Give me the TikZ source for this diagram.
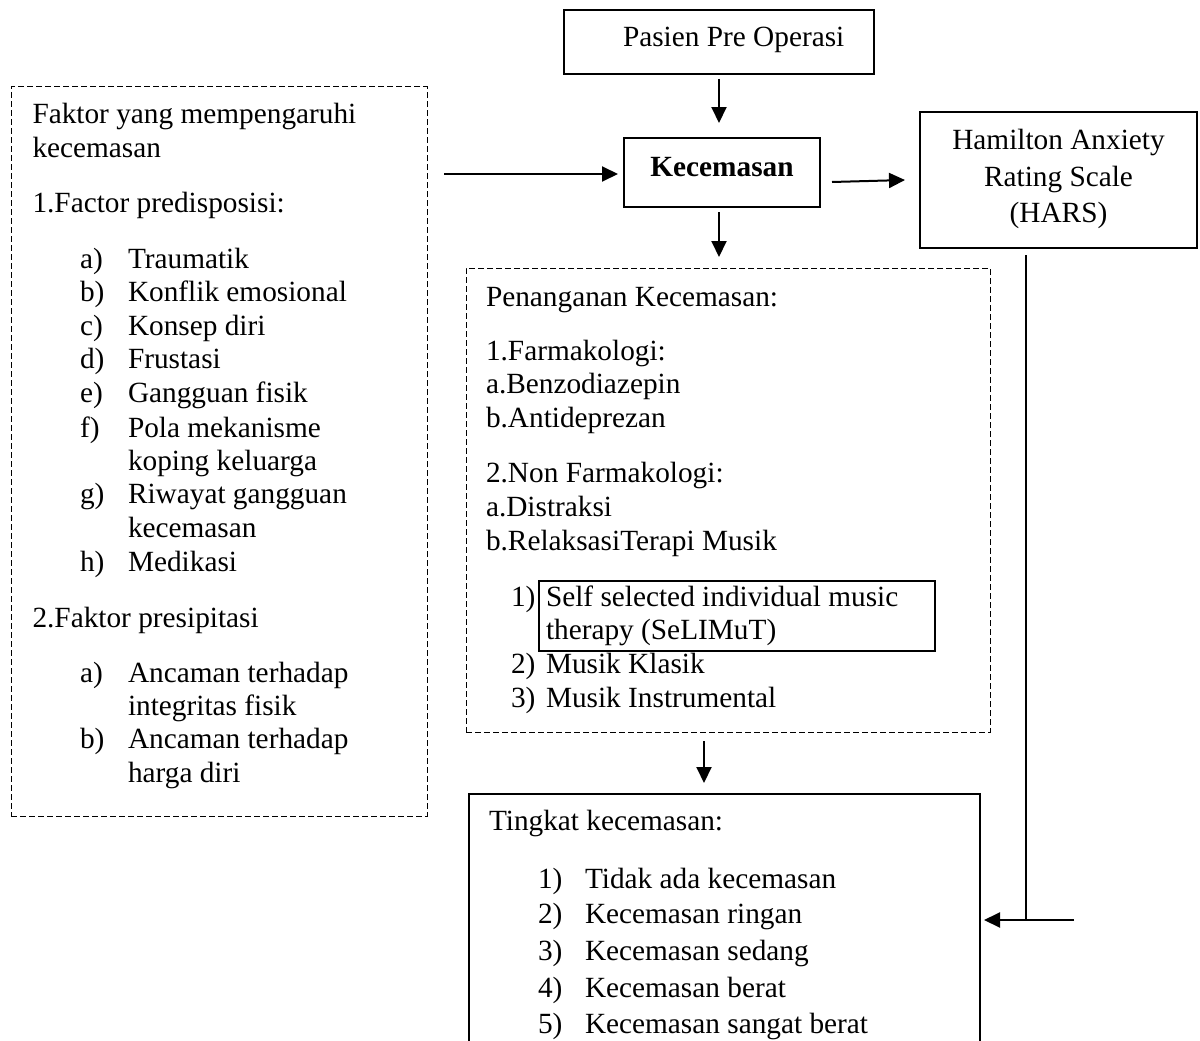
\documentclass[tikz,border=0pt]{standalone}
\usepackage{fontspec}
\setmainfont{Liberation Serif}
\usetikzlibrary{arrows.meta,calc}
\begin{document}
\begin{tikzpicture}[x=1pt,y=-1pt,
  every node/.style={inner sep=0pt, outer sep=0pt},
  txt/.style={anchor=base west, font=\fontsize{29.3}{33}\selectfont},
  ctxt/.style={anchor=base, font=\fontsize{29.3}{33}\selectfont},
  boxsolid/.style={draw=black, line width=1.3pt},
  boxdash/.style={draw=black, line width=1pt, dash pattern=on 6pt off 3pt},
  arr/.style={line width=2pt, -{Triangle[length=16pt,width=15pt]}},
  thinline/.style={line width=1.3pt}]
\useasboundingbox (0,0) rectangle (1200,1041);
\fill[white] (0,0) rectangle (1200,1041);

% ---------- boxes ----------
\node[boxsolid, minimum width=310pt, minimum height=64pt] (pasien) at (719,42) {};
\node[boxsolid, minimum width=196pt, minimum height=69pt] (kecem) at (722,172.5) {};
\node[boxsolid, minimum width=277pt, minimum height=136pt] (hars) at (1058.5,180) {};
\node[boxdash, minimum width=416pt, minimum height=729pt] (factor) at (219,451.5) {};
\node[boxdash, minimum width=524pt, minimum height=464pt] (penang) at (728,500) {};
\node[draw=black, line width=2.6pt, minimum width=396pt, minimum height=70pt] (selfbox) at (737,616) {};
\node[boxsolid, minimum width=511pt, minimum height=276pt] (tingkat) at (724.5,932) {};

% ---------- texts: top ----------
\node[txt] (tpasien) at (623,47) {Pasien Pre Operasi};
\node[ctxt, font=\fontsize{29.3}{33}\selectfont\bfseries] (tkecem) at (722,176) {Kecemasan};
\node[ctxt] (th1) at (1058.5,149) {Hamilton Anxiety};
\node[ctxt] (th2) at (1058.5,186) {Rating Scale};
\node[ctxt] (th3) at (1058.5,222) {(HARS)};

% ---------- texts: left box ----------
\node[txt] (fa1) at (32.5,123) {Faktor yang mempengaruhi};
\node[txt] (fa2) at (32.5,157) {kecemasan};
\node[txt] (fa3) at (32.5,212) {1.Factor predisposisi:};
\node[txt] (la) at (80,268) {a)};   \node[txt] (ia) at (128,268) {Traumatik};
\node[txt] (lb) at (80,301.5) {b)}; \node[txt] (ib) at (128,301.5) {Konflik emosional};
\node[txt] (lc) at (80,335) {c)};   \node[txt] (ic) at (128,335) {Konsep diri};
\node[txt] (ld) at (80,368.5) {d)}; \node[txt] (id) at (128,368.5) {Frustasi};
\node[txt] (le) at (80,402) {e)};   \node[txt] (ie) at (128,402) {Gangguan fisik};
\node[txt] (lf) at (80,437) {f)};   \node[txt] (if) at (128,437) {Pola mekanisme};
                                    \node[txt] (if2) at (128,470) {koping keluarga};
\node[txt] (lg) at (80,503) {g)};   \node[txt] (ig) at (128,503) {Riwayat gangguan};
                                    \node[txt] (ig2) at (128,537) {kecemasan};
\node[txt] (lh) at (80,571) {h)};   \node[txt] (ih) at (128,571) {Medikasi};
\node[txt] (fa4) at (32.5,627) {2.Faktor presipitasi};
\node[txt] (pa) at (80,682) {a)};   \node[txt] (ja) at (128,682) {Ancaman terhadap};
                                    \node[txt] (ja2) at (128,715) {integritas fisik};
\node[txt] (pb) at (80,748) {b)};   \node[txt] (jb) at (128,748) {Ancaman terhadap};
                                    \node[txt] (jb2) at (128,782) {harga diri};

% ---------- texts: Penanganan ----------
\node[txt] (pn1) at (486,306) {Penanganan Kecemasan:};
\node[txt] (pn2) at (486,360) {1.Farmakologi:};
\node[txt] (pn3) at (486,393.5) {a.Benzodiazepin};
\node[txt] (pn4) at (486,427) {b.Antideprezan};
\node[txt] (pn5) at (486,482) {2.Non Farmakologi:};
\node[txt] (pn6) at (486,516) {a.Distraksi};
\node[txt] (pn7) at (486,550) {b.RelaksasiTerapi Musik};
\node[txt] (m1) at (511,606) {1)};  \node[txt] (mt1) at (546,606) {Self selected individual music};
                                    \node[txt] (mt1b) at (546,639.5) {therapy (SeLIMuT)};
\node[txt] (m2) at (511,673) {2)};  \node[txt] (mt2) at (546,673) {Musik Klasik};
\node[txt] (m3) at (511,707) {3)};  \node[txt] (mt3) at (546,707) {Musik Instrumental};

% ---------- texts: Tingkat ----------
\node[txt] (tk0) at (489,830) {Tingkat kecemasan:};
\node[txt] (k1) at (538,888) {1)}; \node[txt] (kt1) at (585,888) {Tidak ada kecemasan};
\node[txt] (k2) at (538,923) {2)}; \node[txt] (kt2) at (585,923) {Kecemasan ringan};
\node[txt] (k3) at (538,960) {3)}; \node[txt] (kt3) at (585,960) {Kecemasan sedang};
\node[txt] (k4) at (538,997) {4)}; \node[txt] (kt4) at (585,997) {Kecemasan berat};
\node[txt] (k5) at (538,1033) {5)}; \node[txt] (kt5) at (585,1033) {Kecemasan sangat berat};

% ---------- connectors ----------
\draw[arr, shorten <=5pt, shorten >=15pt] (pasien.south) -- (pasien.south |- kecem.north);
\coordinate (kw) at ($(kecem.west)+(0,1.5)$);
\draw[arr, shorten <=17pt, shorten >=6pt] (kw -| factor.east) -- (kw);
\draw[arr] ($(kecem.east)+(12,9.5)$) -- ($(hars.west)+(-15,0)$);
\draw[arr, shorten <=5pt, shorten >=11pt] (kecem.south -| pasien.south) -- (penang.north -| pasien.south);
\coordinate (pdown) at ($(penang.south)+(-24,0)$);
\draw[arr, shorten <=9pt, shorten >=11pt] (pdown) -- (pdown |- tingkat.north);
\coordinate (vtop) at ($(hars.south)+(-32.5,7)$);
\coordinate (lvl) at (1074,920);
\coordinate (join) at (vtop |- lvl);
\draw[thinline] (vtop) -- (join);
\draw[arr, shorten >=4pt] (lvl) -- (lvl -| tingkat.east);
\end{tikzpicture}
\end{document}
